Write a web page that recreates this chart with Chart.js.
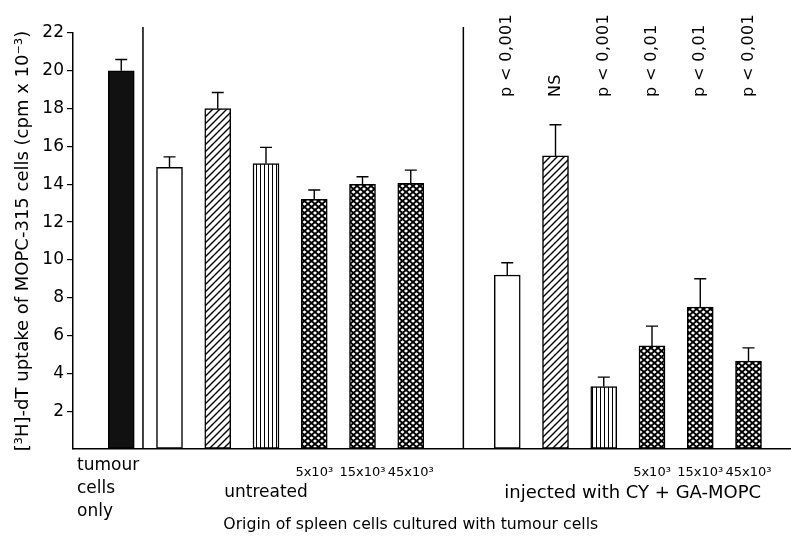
<!DOCTYPE html>
<html>
<head>
<meta charset="utf-8">
<script src="https://cdn.jsdelivr.net/npm/chart.js@4/dist/chart.umd.min.js"></script>
<style>
  html, body { margin: 0; padding: 0; background: #fff; }
  #wrap { width: 791px; height: 542px; }
</style>
</head>
<body>
<div id="wrap"><canvas id="chart" width="791" height="542"></canvas></div>
<script>
// bar index 7 is the empty gap between the two groups
const values = [20.0, 14.9, 18.0, 15.1, 13.2, 14.0, 14.05, null, 9.2, 15.5, 3.3, 5.45, 7.5, 4.65];
const errors = [0.6, 0.55, 0.85, 0.85, 0.5, 0.4, 0.7, null, 0.65, 1.65, 0.5, 1.05, 1.5, 0.7];
const fills = ['solid', 'open', 'diag', 'vert', 'cross', 'cross', 'cross', null,
               'open', 'diag', 'vert', 'cross', 'cross', 'cross'];
const doseLabels = ['', '', '', '', '5x10³', '15x10³', '45x10³', '',
                    '', '', '', '5x10³', '15x10³', '45x10³'];
const pLabels = ['', '', '', '', '', '', '', '',
                 'p < 0,001', 'NS', 'p < 0,001', 'p < 0,01', 'p < 0,01', 'p < 0,001'];
const groupLabels = [['untreated', 3.0, 17], ['injected with CY + GA-MOPC', 10.6, 18]];
const firstLabel = ['tumour', 'cells', 'only'];
const xTitle = 'Origin of spleen cells cultured with tumour cells';
const dividers = [0.45, 7.09];

const FONT = 'DejaVu Sans';

function makePattern(kind) {
  const c = document.createElement('canvas');
  const g = c.getContext('2d');
  g.strokeStyle = '#000';
  if (kind === 'diag') {
    c.width = 7; c.height = 7;
    g.fillStyle = '#fff'; g.fillRect(0, 0, 7, 7);
    g.lineWidth = 1.4;
    g.beginPath();
    g.moveTo(-1, 8); g.lineTo(8, -1);
    g.moveTo(-1, 1); g.lineTo(1, -1);
    g.moveTo(6, 8); g.lineTo(8, 6);
    g.stroke();
  } else if (kind === 'vert') {
    c.width = 4; c.height = 4;
    g.fillStyle = '#fff'; g.fillRect(0, 0, 4, 4);
    g.fillStyle = '#000'; g.fillRect(0, 0, 1, 4);
  } else {
    c.width = 7; c.height = 6;
    g.fillStyle = '#fff'; g.fillRect(0, 0, 7, 6);
    g.lineWidth = 1.9;
    g.beginPath();
    g.moveTo(0, 0); g.lineTo(7, 6);
    g.moveTo(0, 6); g.lineTo(7, 0);
    g.stroke();
  }
  return g.createPattern(c, 'repeat');
}

const patterns = { diag: makePattern('diag'), vert: makePattern('vert'), cross: makePattern('cross') };
const bg = fills.map(f => f === 'solid' ? '#111' : f === 'open' ? '#fff' : f ? patterns[f] : 'transparent');

const extras = {
  id: 'extras',
  afterDatasetsDraw(chart) {
    const { ctx, chartArea, scales: { x, y } } = chart;
    const meta = chart.getDatasetMeta(0);
    ctx.save();
    ctx.strokeStyle = '#000';
    ctx.fillStyle = '#000';

    // error bars (upper only)
    ctx.lineWidth = 1.4;
    meta.data.forEach((bar, i) => {
      if (values[i] == null) return;
      const top = y.getPixelForValue(values[i] + errors[i]);
      ctx.beginPath();
      ctx.moveTo(bar.x, bar.y);
      ctx.lineTo(bar.x, top);
      ctx.moveTo(bar.x - 6, top);
      ctx.lineTo(bar.x + 6, top);
      ctx.stroke();
    });

    // group dividers
    ctx.lineWidth = 1.5;
    dividers.forEach(d => {
      const px = x.getPixelForValue(d);
      ctx.beginPath();
      ctx.moveTo(px, chartArea.top - 6);
      ctx.lineTo(px, chartArea.bottom);
      ctx.stroke();
    });

    // significance labels
    ctx.font = '16px "' + FONT + '"';
    ctx.letterSpacing = '0.4px';
    ctx.textAlign = 'left';
    ctx.textBaseline = 'middle';
    pLabels.forEach((t, i) => {
      if (!t) return;
      ctx.save();
      ctx.translate(x.getPixelForValue(i), 97);
      ctx.rotate(-Math.PI / 2);
      ctx.fillText(t, 0, 0);
      ctx.restore();
    });
    ctx.letterSpacing = '0px';

    // group labels under the axis
    ctx.textAlign = 'center';
    groupLabels.forEach(([t, c, size]) => {
      ctx.font = size + 'px "' + FONT + '"';
      ctx.fillText(t, x.getPixelForValue(c), 493);
    });
    ctx.font = '15.7px "' + FONT + '"';
    ctx.fillText(xTitle, x.getPixelForValue(6.0), 525);
    ctx.font = '17px "' + FONT + '"';
    ctx.textAlign = 'left';
    firstLabel.forEach((t, i) => ctx.fillText(t, chartArea.left + 4, 466 + i * 23));
    ctx.restore();
  }
};

new Chart(document.getElementById('chart'), {
  type: 'bar',
  data: {
    datasets: [{
      data: values.map((v, i) => ({ x: i, y: v })),
      backgroundColor: bg,
      borderColor: '#000',
      borderWidth: 1.5,
      borderSkipped: false,
      barThickness: 26
    }]
  },
  options: {
    responsive: false,
    animation: false,
    events: [],
    layout: { padding: { top: 33, right: 1, left: 0, bottom: 0 } },
    plugins: { legend: { display: false }, tooltip: { enabled: false } },
    scales: {
      x: {
        type: 'linear',
        offset: false,
        min: -1,
        max: 13.86,
        afterFit: s => { s.height = 93; },
        afterBuildTicks: s => { s.ticks = doseLabels.map((_, i) => ({ value: i })); },
        grid: { display: false },
        border: { display: true, color: '#000', width: 1.5 },
        ticks: {
          autoSkip: false,
          maxRotation: 0,
          padding: 8,
          color: '#000',
          font: { family: FONT, size: 13 },
          callback: v => doseLabels[v] || ''
        }
      },
      y: {
        min: 0,
        max: 22,
        afterFit: s => { s.width = 73; },
        grid: {
          drawOnChartArea: false,
          drawTicks: true,
          tickLength: 6,
          color: c => c.tick && c.tick.value === 0 ? 'rgba(0,0,0,0)' : '#000',
          lineWidth: 1.2
        },
        border: { display: true, color: '#000', width: 1.5 },
        ticks: {
          stepSize: 2,
          padding: 3,
          color: '#000',
          font: { family: FONT, size: 17 },
          callback: v => v === 0 ? '' : v
        },
        title: {
          display: true,
          text: '[³H]-dT uptake of MOPC-315 cells (cpm x 10⁻³)',
          color: '#000',
          font: { family: FONT, size: 18 },
          padding: { top: 13, bottom: 0 }
        }
      }
    }
  },
  plugins: [extras]
});
</script>
</body>
</html>
